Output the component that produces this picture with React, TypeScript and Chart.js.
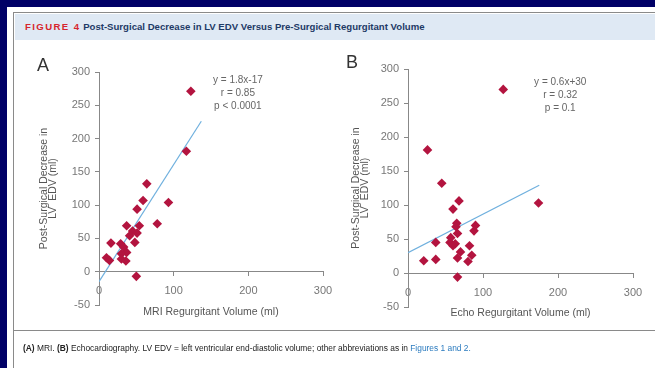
import React, { useEffect, useRef } from "react";
import { Chart, registerables } from "chart.js";

Chart.register(...registerables);

const FONT = "'Liberation Sans Narrow', 'Liberation Sans', Arial, sans-serif";

// Panel A: MRI regurgitant volume vs post-surgical decrease in LV EDV
const mriX = [123, 117, 64, 59, 93, 51, 78, 37, 54, 45, 41, 51, 48, 16, 29, 33, 37, 30, 10, 14, 30, 36, 50];
const mriY = [271, 181, 132, 107, 104, 94, 72, 69, 69, 61, 54, 58, 44, 43, 42, 37, 29, 27, 21, 17, 19, 16, -7];
const mriFitX = [0, 137];
const mriFitY = [-15, 226];

// Panel B: Echo regurgitant volume
const echoX = [127, 26, 45, 68, 174, 60, 65, 90, 64, 88, 66, 57, 37, 56, 63, 60, 82, 70, 85, 66, 21, 37, 80, 66];
const echoY = [270, 181, 132, 106, 103, 94, 73, 70, 68, 62, 58, 52, 45, 45, 43, 40, 40, 31, 26, 22, 18, 20, 17, -6];
const echoFitX = [0, 175];
const echoFitY = [30, 129];

const yTicksMin = -50;
const yTicksMax = 300;
const yStep = 50;
const xTicksMin = 0;
const xTicksMax = 300;
const xStep = 100;

const statsA = ["y = 1.8x-17", "r = 0.85", "p < 0.0001"];
const statsB = ["y = 0.6x+30", "r = 0.32", "p = 0.1"];

const POINT = "#b3143f";
const FIT = "#6fb0de";

type PanelProps = {
  xs: number[];
  ys: number[];
  fitX: number[];
  fitY: number[];
  xTitle: string;
  letter: string;
  stats: string[];
  statsAt: [number, number];
  width: number;
  height: number;
  yWidth: number;
  xHeight: number;
  padTop: number;
  padRight: number;
  padBottom: number;
  yTitlePad: number;
};

function Panel(p: PanelProps) {
  const ref = useRef<HTMLCanvasElement | null>(null);
  useEffect(() => {
    if (!ref.current) return;
    const notes = {
      id: "notes",
      afterDraw(chart: any) {
        const { ctx, scales, chartArea } = chart;
        ctx.save();
        ctx.font = `10px ${FONT}`;
        ctx.fillStyle = "#666";
        ctx.textAlign = "center";
        ctx.textBaseline = "middle";
        const px = scales.x.getPixelForValue(p.statsAt[0]);
        const py = scales.y.getPixelForValue(p.statsAt[1]);
        p.stats.forEach((l, i) => ctx.fillText(l, px, py + i * 13));
        ctx.font = `18px ${FONT}`;
        ctx.fillStyle = "#333";
        ctx.fillText(p.letter, chartArea.left - 56, chartArea.top - 6);
        ctx.restore();
      },
    };
    const chart = new Chart(ref.current, {
      type: "scatter",
      data: {
        datasets: [
          {
            data: p.xs.map((x, i) => ({ x, y: p.ys[i] })),
            pointStyle: "rectRot",
            pointRadius: 4.8,
            backgroundColor: POINT,
            borderWidth: 0,
          },
          {
            data: p.fitX.map((x, i) => ({ x, y: p.fitY[i] })),
            showLine: true,
            pointRadius: 0,
            borderColor: FIT,
            borderWidth: 1.2,
          },
        ],
      },
      options: {
        animation: false,
        responsive: false,
        devicePixelRatio: 1,
        layout: { padding: { top: p.padTop, right: p.padRight, left: 0, bottom: p.padBottom } },
        plugins: { legend: { display: false }, tooltip: { enabled: false } },
        scales: {
          x: {
            type: "linear",
            position: { y: 0 } as any,
            min: xTicksMin,
            max: xTicksMax,
            ticks: { stepSize: xStep, color: "#777", font: { family: FONT, size: 11 }, padding: 9 },
            grid: { display: true, drawOnChartArea: false, drawTicks: true, tickLength: 4, color: "#888" },
            border: { display: true, color: "#888", width: 1 },
            title: {
              display: true,
              text: p.xTitle,
              color: "#555",
              font: { family: FONT, size: 10.5, lineHeight: 1.15 },
              padding: { top: 0, bottom: 0 },
            },
            afterFit(scale: any) {
              scale.height = p.xHeight;
            },
          },
          y: {
            type: "linear",
            position: "left",
            min: yTicksMin,
            max: yTicksMax,
            ticks: { stepSize: yStep, color: "#777", font: { family: FONT, size: 11 }, padding: 5 },
            grid: { display: true, drawOnChartArea: false, drawTicks: true, tickLength: 4, color: "#888" },
            border: { display: true, color: "#888", width: 1 },
            title: {
              display: true,
              text: ["Post-Surgical Decrease in", "LV  EDV (ml)"],
              color: "#555",
              font: { family: FONT, size: 10.5, lineHeight: 0.88 },
              padding: { top: p.yTitlePad, bottom: 0 },
            },
            afterFit(scale: any) {
              scale.width = p.yWidth;
            },
          },
        },
      },
      plugins: [notes],
    });
    return () => chart.destroy();
  }, []);
  return <canvas ref={ref} width={p.width} height={p.height} style={{ display: "block" }} />;
}

export default function App() {
  return (
    <div
      style={{
        position: "fixed",
        left: 0,
        top: 0,
        width: 655,
        height: 368,
        background: "#000066",
        overflow: "hidden",
        fontFamily: FONT,
      }}
    >
      <div style={{ position: "absolute", left: 7, top: 7, width: 660, height: 370, background: "#fff" }} />
      <div
        style={{
          position: "absolute",
          left: 13,
          top: 12,
          width: 660,
          height: 370,
          borderLeft: "1.5px solid #8a8a8a",
          borderTop: "1.5px solid #8a8a8a",
          boxSizing: "border-box",
        }}
      />
      <div style={{ position: "absolute", left: 15, top: 14, width: 650, height: 26, background: "#dfe9f4" }} />
      <div
        style={{
          position: "absolute",
          left: 25,
          top: 21,
          whiteSpace: "nowrap",
          fontSize: 9.6,
          fontWeight: "bold",
          lineHeight: "12px",
          fontFamily: "'Liberation Sans', Arial, sans-serif",
        }}
      >
        <span style={{ color: "#d7262e", letterSpacing: 1.4 }}>FIGURE 4</span>
        <span style={{ color: "#1e3a66" }}>{"  "}Post-Surgical Decrease in LV EDV Versus Pre-Surgical Regurgitant Volume</span>
      </div>
      <div style={{ position: "absolute", left: 20, top: 50 }}>
        <Panel
          xs={mriX}
          ys={mriY}
          fitX={mriFitX}
          fitY={mriFitY}
          xTitle="MRI Regurgitant Volume (ml)"
          letter="A"
          stats={statsA}
          statsAt={[186, 288]}
          width={328}
          height={301}
          yWidth={79}
          xHeight={46}
          padTop={22}
          padRight={25}
          padBottom={46}
          yTitlePad={19}
        />
      </div>
      <div style={{ position: "absolute", left: 330, top: 50 }}>
        <Panel
          xs={echoX}
          ys={echoY}
          fitX={echoFitX}
          fitY={echoFitY}
          xTitle="Echo Regurgitant Volume (ml)"
          letter="B"
          stats={statsB}
          statsAt={[203, 281]}
          width={328}
          height={303}
          yWidth={78}
          xHeight={46}
          padTop={19}
          padRight={25}
          padBottom={46}
          yTitlePad={21}
        />
      </div>
      <div style={{ position: "absolute", left: 14, top: 330, width: 660, height: 0, borderTop: "1.5px solid #8a8a8a" }} />
      <div
        style={{
          position: "absolute",
          left: 23,
          top: 342,
          whiteSpace: "nowrap",
          fontSize: 8.4,
          lineHeight: "12px",
          color: "#222",
          fontFamily: "'Liberation Sans', Arial, sans-serif",
        }}
      >
        <b>(A)</b> MRI. <b>(B)</b> Echocardiography. LV EDV = left ventricular end-diastolic volume; other abbreviations as in{" "}
        <span style={{ color: "#2b7bbf" }}>Figures 1 and 2.</span>
      </div>
    </div>
  );
}
